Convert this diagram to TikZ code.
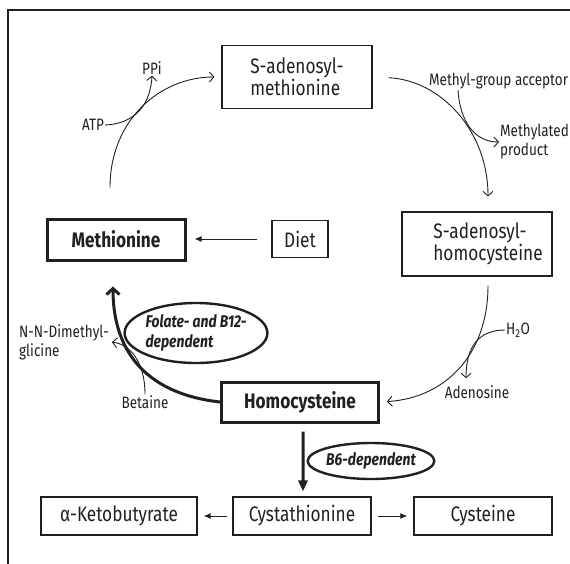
\documentclass[tikz,border=0pt]{standalone}
\usepackage{fontspec}
\setmainfont[FakeStretch=0.82]{Fira Sans}
\usetikzlibrary{arrows.meta,shapes.geometric}
\definecolor{ink}{HTML}{231F20}

\begin{document}
\begin{tikzpicture}[x=1bp,y=-1bp,
	box/.style={shape=rectangle,draw=ink,line width=1.1bp,inner sep=0pt,minimum height=38bp,text=ink,font=\fontsize{21bp}{18bp}\selectfont,align=left},
	mainbox/.style={box,line width=3bp,font=\fontsize{21bp}{18bp}\selectfont\bfseries},
	lbl/.style={text=ink,inner sep=1bp,font=\fontsize{16.5bp}{19bp}\selectfont,align=left},
	tag/.style={shape=ellipse,draw=ink,line width=2.4bp,inner sep=0pt,text=ink,font=\fontsize{17bp}{20bp}\selectfont\bfseries\itshape,align=left},
	flow/.style={draw=ink,line width=0.9bp,-{Straight Barb[length=4.5bp,width=10bp]}},
	feed/.style={draw=ink,line width=1bp,-{Latex[length=7bp,width=6bp]}},
	major/.style={draw=ink,line width=3bp,-{Straight Barb[length=6bp,width=13bp]}},
	down/.style={draw=ink,line width=3bp,-{Triangle[length=11bp,width=9bp]}}]
	
	\useasboundingbox (0,0) rectangle (570,564);
	\draw[ink,line width=1.2bp] (8,564) -- (8,10) -- (570,10);
	
	\node[box,minimum width=150bp,minimum height=63bp] (sam) at (297,77) {S-adenosyl-\\methionine};
	\node[mainbox,minimum width=138bp,minimum height=41bp] (met) at (116,239.5) {Methionine};
	\node[box,minimum width=56bp,minimum height=37bp] (diet) at (300,239) {Diet};
	\node[box,minimum width=150bp,minimum height=64bp] (sah) at (477,244) {\hspace*{22bp}S-adenosyl-\\\hspace*{22bp}homocysteine};
	\node[mainbox,minimum width=157bp,minimum height=40bp] (hcy) at (300,402) {Homocysteine};
	\node[box,minimum width=156bp] (keto) at (119,516) {α-Ketobutyrate};
	\node[box,minimum width=138bp] (cysta) at (302,516) {Cystathionine};
	\node[box,minimum width=138bp] (cys) at (483,516) {Cysteine};
	
	\node[tag,minimum width=137bp,minimum height=60bp] (folate) at (196,333) {Folate- and B12-\\dependent};
	\node[tag,minimum width=126bp,minimum height=36bp] (bsix) at (371,461) {B6-dependent};
	
	\node[lbl] (ppi) at (152,68) {PPi};
	\node[lbl] (atp) at (93,125) {ATP};
	\node[lbl,anchor=west] (macc) at (428,81) {Methyl-group acceptor};
	\node[lbl,anchor=west] (mprod) at (499,142) {Methylated\\product};
	\node[lbl,anchor=west] (water) at (505,330) {H\textsubscript{2}O};
	\node[lbl] (adeno) at (477,392) {Adenosine};
	\node[lbl] (bet) at (145,402) {Betaine};
	\node[lbl,anchor=west] (dmg) at (18,342) {N-N-Dimethyl-\\glicine};
	
	\path[flow,shorten <=30bp,shorten >=7bp] ([xshift=-6bp]met.north) .. controls (110,120) and (160,77) .. (sam.west);
	\path[flow] (atp.east) .. controls (130,124) and (150,110) .. (ppi.south);
	\path[flow,shorten <=16bp,shorten >=15bp] (sam.east) .. controls (440,80) and (488,130) .. ([xshift=11bp]sah.north);
	\path[flow] ([xshift=30bp]macc.south west) .. controls (460,122) and (475,142) .. (mprod.west);
	\path[flow,shorten <=9bp,shorten >=7bp] ([xshift=11bp]sah.south) .. controls (488,355) and (445,398) .. (hcy.east);
	\path[flow,shorten >=6bp] (water.west) .. controls (480,330) and (466,345) .. ([xshift=-11bp]adeno.north);
	\path[flow,shorten >=2bp] (bet.north) .. controls (145,362) and (130,344) .. (dmg.east);
	\path[major,shorten >=25bp] (hcy.west) .. controls (140,393) and (113,345) .. ([xshift=-3bp]met.south);
	\path[down,shorten <=8bp,shorten >=5bp] ([xshift=3bp]hcy.south) -- ([xshift=1bp]cysta.north);
	\path[feed,shorten <=14bp,shorten >=8bp] (diet.west) -- (met.east |- diet.west);
	\path[feed,shorten <=5bp,shorten >=6bp] (cysta.west) -- (keto.east);
	\path[feed,shorten <=6bp,shorten >=6bp] (cysta.east) -- (cys.west);
	
\end{tikzpicture}
\end{document}
